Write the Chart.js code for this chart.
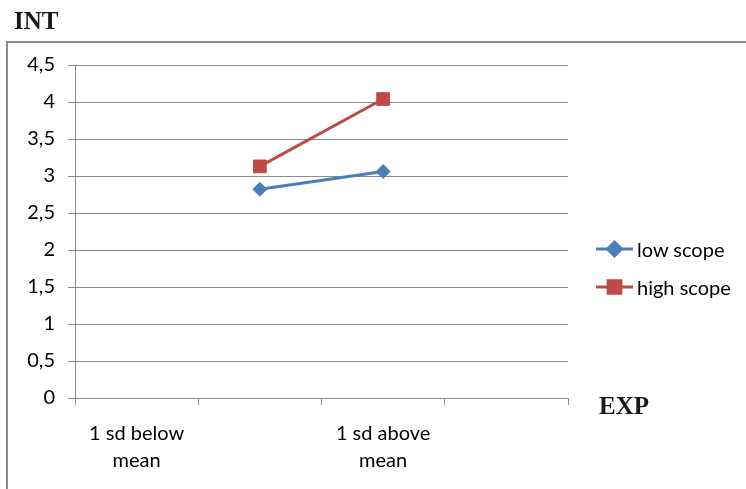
<!DOCTYPE html>
<html><head><meta charset="utf-8">
<script src="https://cdn.jsdelivr.net/npm/chart.js@4"></script>
<style>
html,body{margin:0;padding:0;background:#fff;}
#wrap{position:relative;width:746px;height:489px;overflow:hidden;background:#fff;}
#c{position:absolute;left:0;top:0;}
.t{position:absolute;font-family:"Liberation Serif","Times New Roman",serif;font-weight:bold;font-size:25px;color:#1a1a1a;line-height:1;}
#legend{position:absolute;left:596px;top:230px;font-family:Lato,sans-serif;font-size:20px;color:#000;}
.li{height:38px;display:flex;align-items:center;white-space:nowrap;}
.li canvas{margin-right:3px;}
</style></head>
<body>
<div id="wrap">
<canvas id="c" width="746" height="489"></canvas>
<div class="t" style="left:14px;top:8px">INT</div>
<div class="t" style="left:599px;top:393px">EXP</div>
<div id="legend"></div>
</div>
<script>
// ---- data ----
const categories = [["1 sd below", "mean"], "", ["1 sd above", "mean"], ""];
const seriesNames = ["low scope", "high scope"];
const lowScope = [null, 2.82, 3.06, null];
const highScope = [null, 3.13, 4.04, null];
const yTickValues = [0, 0.5, 1, 1.5, 2, 2.5, 3, 3.5, 4, 4.5];
const yTickLabels = ["0", "0,5", "1", "1,5", "2", "2,5", "3", "3,5", "4", "4,5"];

const BLUE = '#4A7EBB', RED = '#BE4B48', GRID = '#8c8c8c';
const styles = [
  {color: BLUE, pointStyle: 'rectRot', radius: 7},
  {color: RED, pointStyle: 'rect', radius: 9}
];

const framePlugin = {
  id: 'frame',
  beforeDraw(chart) {
    const ctx = chart.ctx;
    ctx.save();
    ctx.strokeStyle = '#8a8a8a';
    ctx.lineWidth = 2;
    ctx.beginPath();
    ctx.moveTo(7, 489);
    ctx.lineTo(7, 42);
    ctx.lineTo(746, 42);
    ctx.stroke();
    ctx.restore();
  }
};

const seriesData = [lowScope, highScope];
const chart = new Chart(document.getElementById('c'), {
  type: 'line',
  data: {
    labels: categories,
    datasets: seriesData.map((d, i) => ({
      label: seriesNames[i],
      data: d,
      borderColor: styles[i].color,
      backgroundColor: styles[i].color,
      borderWidth: 3,
      pointStyle: styles[i].pointStyle,
      pointRadius: styles[i].radius,
      pointBorderWidth: 1,
      pointBorderColor: styles[i].color,
      pointBackgroundColor: styles[i].color,
      tension: 0,
      spanGaps: false
    }))
  },
  options: {
    responsive: false,
    animation: false,
    devicePixelRatio: 1,
    layout: {padding: {left: 0, top: 65, right: 178, bottom: 0}},
    plugins: {legend: {display: false}, tooltip: {enabled: false}},
    scales: {
      x: {
        type: 'category',
        offset: true,
        grid: {offset: true, drawOnChartArea: false, drawTicks: true, tickLength: 7, color: GRID},
        border: {color: GRID, width: 1},
        ticks: {font: {family: 'Lato', size: 20, lineHeight: '27px'}, color: '#000', padding: 15, maxRotation: 0, autoSkip: false},
        afterFit(s) { s.height = 91; }
      },
      y: {
        min: 0, max: 4.5,
        afterBuildTicks(s) { s.ticks = yTickValues.map(v => ({value: v})); },
        ticks: {
          callback: (v) => yTickLabels[yTickValues.indexOf(v)],
          padding: 13, color: '#000',
          font: {family: 'Lato', size: 20}
        },
        grid: {color: GRID, tickLength: 7},
        border: {color: GRID, width: 1},
        afterFit(s) { s.width = 75; }
      }
    }
  },
  plugins: [framePlugin]
});

// legend (HTML)
const lg = document.getElementById('legend');
seriesNames.forEach((name, i) => {
  const row = document.createElement('div');
  row.className = 'li';
  const cv = document.createElement('canvas');
  cv.width = 38; cv.height = 20;
  const ctx = cv.getContext('2d');
  ctx.strokeStyle = styles[i].color;
  ctx.fillStyle = styles[i].color;
  ctx.lineWidth = 3;
  ctx.beginPath(); ctx.moveTo(0, 10); ctx.lineTo(37, 10); ctx.stroke();
  Chart.helpers.drawPoint(ctx, {pointStyle: styles[i].pointStyle, radius: styles[i].radius, borderWidth: 1}, 18.5, 10);
  const sp = document.createElement('span');
  sp.textContent = name;
  row.appendChild(cv); row.appendChild(sp);
  lg.appendChild(row);
});
</script>
</body></html>
